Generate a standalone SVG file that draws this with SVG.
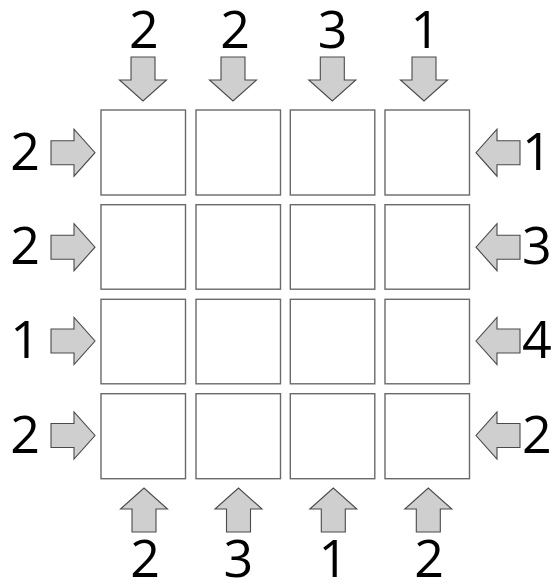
<svg xmlns="http://www.w3.org/2000/svg" xmlns:xlink="http://www.w3.org/1999/xlink" width="558" height="584" viewBox="0 0 558 584">
<style>
.cell{fill:#ffffff;stroke:#6a6a6a;stroke-width:1.4}
.arr{fill:#cfcfcf;stroke:#4a4a4a;stroke-width:1.1;stroke-linejoin:miter}
.num{font-family:"Open Sans","Noto Sans","DejaVu Sans",sans-serif;font-size:52px;fill:#000}
.mid{text-anchor:middle}
.end{text-anchor:end}
.start{text-anchor:start}
</style>
<defs>
<path id="ad" class="arr" d="M-12,-44 H12 V-21 H23.5 L0,0 L-23.5,-21 H-12 Z"/>
</defs>
<rect width="558" height="584" fill="#ffffff"/>
<g id="grid">
<g id="r1">
<rect id="c11" class="cell" x="101" y="110" width="84.5" height="85"/>
<rect id="c12" class="cell" x="196" y="110" width="84.5" height="85"/>
<rect id="c13" class="cell" x="290.3" y="110" width="84.5" height="85"/>
<rect id="c14" class="cell" x="385" y="110" width="84.5" height="85"/>
</g>
<g id="r2">
<rect id="c21" class="cell" x="101" y="204.7" width="84.5" height="84.5"/>
<rect id="c22" class="cell" x="196" y="204.7" width="84.5" height="84.5"/>
<rect id="c23" class="cell" x="290.3" y="204.7" width="84.5" height="84.5"/>
<rect id="c24" class="cell" x="385" y="204.7" width="84.5" height="84.5"/>
</g>
<g id="r3">
<rect id="c31" class="cell" x="101" y="299.3" width="84.5" height="84.5"/>
<rect id="c32" class="cell" x="196" y="299.3" width="84.5" height="84.5"/>
<rect id="c33" class="cell" x="290.3" y="299.3" width="84.5" height="84.5"/>
<rect id="c34" class="cell" x="385" y="299.3" width="84.5" height="84.5"/>
</g>
<g id="r4">
<rect id="c41" class="cell" x="101" y="393.7" width="84.5" height="85"/>
<rect id="c42" class="cell" x="196" y="393.7" width="84.5" height="85"/>
<rect id="c43" class="cell" x="290.3" y="393.7" width="84.5" height="85"/>
<rect id="c44" class="cell" x="385" y="393.7" width="84.5" height="85"/>
</g>
</g>
<g id="connectors">
<g id="top-arrows">
<use xlink:href="#ad" href="#ad" transform="translate(143,101)"/>
<use xlink:href="#ad" href="#ad" transform="translate(233,101)"/>
<use xlink:href="#ad" href="#ad" transform="translate(332.3,101)"/>
<use xlink:href="#ad" href="#ad" transform="translate(424,101)"/>
</g>
<g id="bottom-arrows">
<use xlink:href="#ad" href="#ad" transform="translate(144,488) rotate(180)"/>
<use xlink:href="#ad" href="#ad" transform="translate(238.5,488) rotate(180)"/>
<use xlink:href="#ad" href="#ad" transform="translate(333.3,488) rotate(180)"/>
<use xlink:href="#ad" href="#ad" transform="translate(428.3,488) rotate(180)"/>
</g>
<g id="left-arrows">
<use xlink:href="#ad" href="#ad" transform="translate(95,152.7) rotate(-90)"/>
<use xlink:href="#ad" href="#ad" transform="translate(95,247.2) rotate(-90)"/>
<use xlink:href="#ad" href="#ad" transform="translate(95,341) rotate(-90)"/>
<use xlink:href="#ad" href="#ad" transform="translate(95,435.5) rotate(-90)"/>
</g>
<g id="right-arrows">
<use xlink:href="#ad" href="#ad" transform="translate(476,152.7) rotate(90)"/>
<use xlink:href="#ad" href="#ad" transform="translate(476,247.2) rotate(90)"/>
<use xlink:href="#ad" href="#ad" transform="translate(476,341) rotate(90)"/>
<use xlink:href="#ad" href="#ad" transform="translate(476,435.5) rotate(90)"/>
</g>
</g>
<g id="labels">
<g id="top-labels">
<text class="num mid" x="143.8" y="48">2</text>
<text class="num mid" x="235" y="48">2</text>
<text class="num mid" x="332.5" y="48">3</text>
<text class="num mid" x="425.3" y="48">1</text>
</g>
<g id="bottom-labels">
<text class="num mid" x="145" y="577">2</text>
<text class="num mid" x="238.3" y="577">3</text>
<text class="num mid" x="333.4" y="577">1</text>
<text class="num mid" x="429" y="577">2</text>
</g>
<g id="left-labels">
<text class="num end" x="40" y="169.5">2</text>
<text class="num end" x="40" y="264">2</text>
<text class="num end" x="40" y="358">1</text>
<text class="num end" x="40" y="452.5">2</text>
</g>
<g id="right-labels">
<text class="num start" x="522" y="169.5">1</text>
<text class="num start" x="522" y="264">3</text>
<text class="num start" x="522" y="358">4</text>
<text class="num start" x="522" y="452.5">2</text>
</g>
</g>
</svg>
